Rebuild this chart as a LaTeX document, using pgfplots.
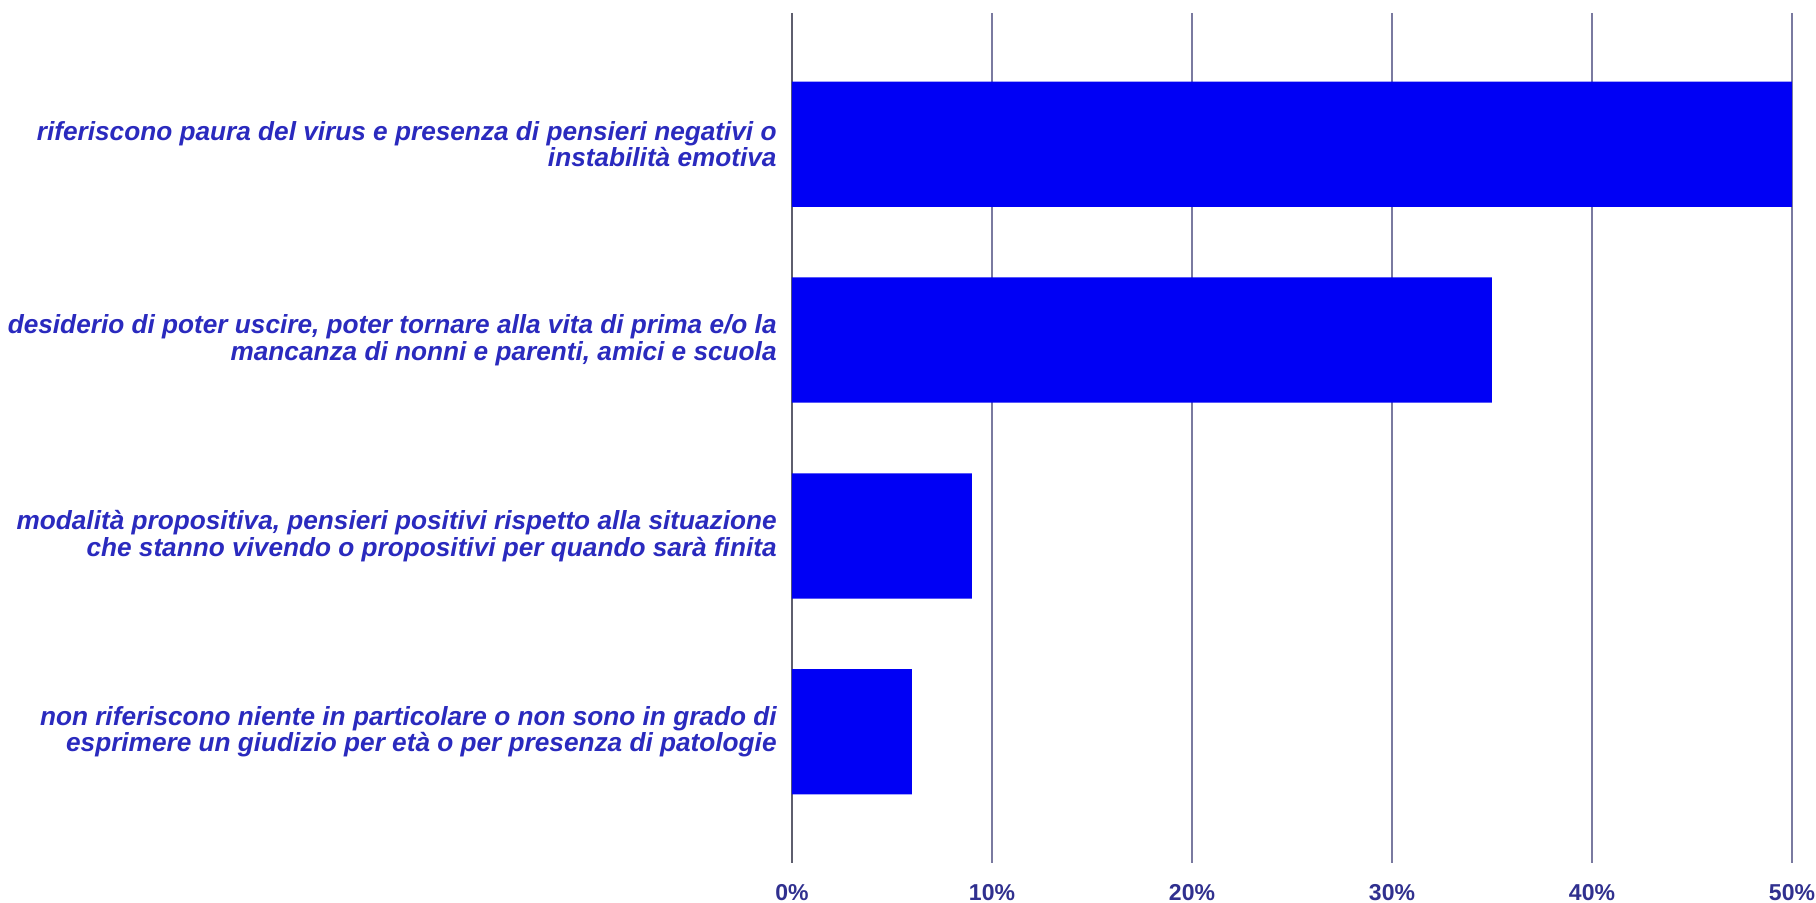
\documentclass[border=0pt]{standalone}
\usepackage{fontspec}
\setmainfont{Liberation Sans}
\usepackage{pgfplots}
\pgfplotsset{compat=1.18}
\definecolor{barblue}{HTML}{0000F5}
\definecolor{labblue}{HTML}{2A2ABE}
\definecolor{tickblue}{HTML}{30308F}
\definecolor{gridcol}{HTML}{7A7AA0}
\definecolor{zerocol}{HTML}{5E5E6E}

\begin{document}
\begin{tikzpicture}
\begin{axis}[
  name=ax,
  scale only axis,
  width=500pt, height=425pt,
  xbar, bar width=0.64,
  xmin=0, xmax=50,
  ymin=-0.67, ymax=3.67,
  y dir=reverse,
  xtick={10,20,30,40,50},
  extra x ticks={0},
  extra x tick style={grid style={zerocol, line width=1pt}},
  ytick={0,1,2,3},
  yticklabels={
    {riferiscono paura del virus e presenza di pensieri negativi o\\instabilità emotiva},
    {desiderio di poter uscire, poter tornare alla vita di prima e/o la\\mancanza di nonni e parenti, amici e scuola},
    {modalità propositiva, pensieri positivi rispetto alla situazione\\che stanno vivendo o propositivi per quando sarà finita},
    {non riferiscono niente in particolare o non sono in grado di\\esprimere un giudizio per età o per presenza di patologie}},
  xmajorgrids, ymajorgrids=false,
  grid style={gridcol, line width=1pt},
  axis line style={draw=none},
  major tick length=0pt,
  /pgf/number format/assume math mode=true,
  xticklabel={\pgfmathprintnumber{\tick}\%},
  xticklabel style={font=\bfseries\fontsize{11.5}{11.5}\selectfont, text=tickblue, inner sep=0pt, yshift=-10.5pt},
  yticklabel style={font=\bfseries\itshape\fontsize{13.1}{11.6}\selectfont, text=labblue, align=right, inner sep=0pt, xshift=-7.5pt},
]
\addplot[fill=barblue, draw=none] coordinates {(50,0) (35,1) (9,2) (6,3)};
\end{axis}
\pgfresetboundingbox
\path ([xshift=-396pt,yshift=-20pt]ax.south west) rectangle ([xshift=12pt,yshift=6.5pt]ax.north east);
\end{tikzpicture}
\end{document}
